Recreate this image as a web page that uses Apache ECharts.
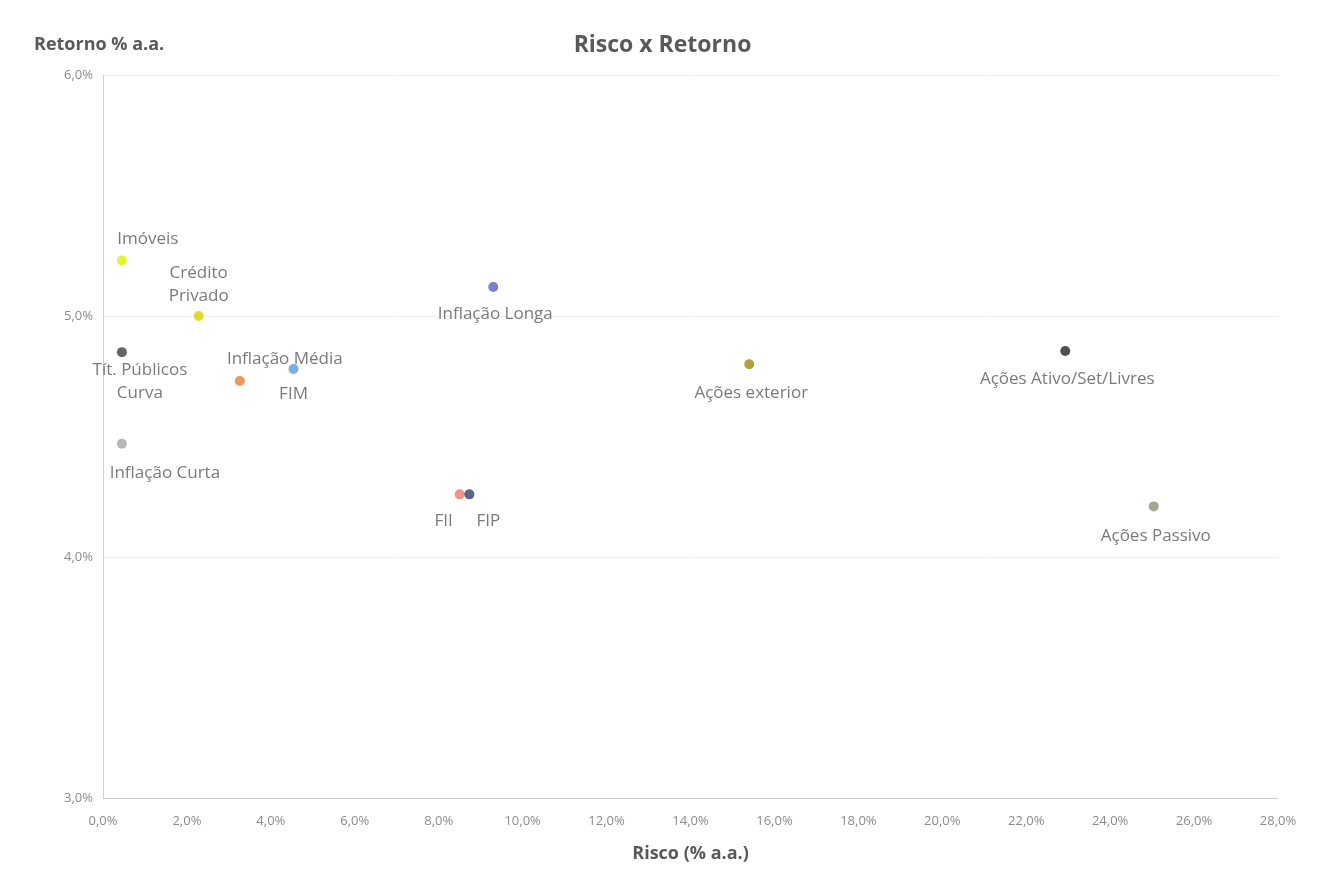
<!DOCTYPE html>
<html>
<head>
<meta charset="utf-8">
<title>Risco x Retorno</title>
<script src="https://cdn.jsdelivr.net/npm/echarts@6/dist/echarts.min.js"></script>
<style>
  html, body { margin: 0; padding: 0; background: #fff; }
  #chart { width: 1325px; height: 882px; }
</style>
</head>
<body>
<div id="chart"></div>
<script>
// ===== dados =====
const assetNames = [
  'Imóveis', 'Crédito\nPrivado', 'Tít. Públicos\nCurva', 'Inflação Média', 'FIM',
  'Inflação Curta', 'Inflação Longa', 'FII', 'FIP', 'Ações exterior',
  'Ações Ativo/Set/Livres', 'Ações Passivo'
]
const riskValues = [0.45, 2.28, 0.45, 3.26, 4.54, 0.45, 9.3, 8.5, 8.73, 15.4, 22.93, 25.04]
const returnValues = [5.23, 5.0, 4.85, 4.73, 4.78, 4.47, 5.12, 4.26, 4.26, 4.80, 4.855, 4.21]
const xTicks = [0, 2, 4, 6, 8, 10, 12, 14, 16, 18, 20, 22, 24, 26, 28]
const yTicks = [3, 4, 5, 6]

// cores e posição dos rótulos (estilo)
const pointColors = [
  '#d9f200', '#d4d400', '#3f3f3f', '#ed7d31', '#5b9bd5',
  '#a5a5a5', '#5b5bc8', '#f2766a', '#2f3f66', '#9c8a0a',
  '#262626', '#8b9178'
]
const labelLayout = [
  ['top', 26, 0], ['top', 0, 2], ['bottom', 18, -3], ['top', 45, 0], ['bottom', 0, 4],
  ['bottom', 43, 8], ['bottom', 2, 6], ['bottom', -16, 5], ['bottom', 19, 5], ['bottom', 2, 7],
  ['bottom', 2, 7], ['bottom', 2, 8]
]

const fmt = v => v.toFixed(1).replace('.', ',') + '%'

const points = assetNames.map((name, i) => ({
  name,
  value: [riskValues[i], returnValues[i]],
  itemStyle: { color: pointColors[i] },
  label: {
    position: labelLayout[i][0],
    offset: [labelLayout[i][1], labelLayout[i][2]]
  }
}))

const chart = echarts.init(document.getElementById('chart'))
chart.setOption({
  animation: false,
  backgroundColor: '#fff',
  title: [
    {
      text: 'Risco x Retorno',
      left: 'center',
      top: 29,
      textStyle: { fontFamily: 'Open Sans', fontSize: 23, fontWeight: 'bold', color: '#595959' }
    },
    {
      text: 'Retorno % a.a.',
      left: 29,
      top: 31,
      textStyle: { fontFamily: 'Open Sans', fontSize: 18, fontWeight: 'bold', color: '#595959' }
    }
  ],
  grid: { left: 103, right: 47, top: 75, bottom: 84 },
  xAxis: {
    type: 'value',
    min: xTicks[0],
    max: xTicks[xTicks.length - 1],
    interval: 2,
    name: 'Risco (% a.a.)',
    nameLocation: 'middle',
    nameGap: 47,
    nameTextStyle: { fontFamily: 'Open Sans', fontSize: 18, fontWeight: 'bold', color: '#595959' },
    axisLine: { lineStyle: { color: '#d0d0d0' } },
    axisTick: { show: false },
    splitLine: { show: false },
    axisLabel: { formatter: fmt, fontFamily: 'Open Sans', fontSize: 13, color: '#8c8c8c', margin: 17 }
  },
  yAxis: {
    type: 'value',
    min: yTicks[0],
    max: yTicks[yTicks.length - 1],
    interval: 1,
    axisLine: { show: true, lineStyle: { color: '#d0d0d0' } },
    axisTick: { show: false },
    splitLine: { lineStyle: { color: '#f0f0f0' } },
    axisLabel: { formatter: fmt, fontFamily: 'Open Sans', fontSize: 13, color: '#8c8c8c', margin: 10 }
  },
  series: [
    {
      type: 'scatter',
      symbolSize: 10,
      data: points,
      label: {
        show: true,
        formatter: p => p.name,
        fontFamily: 'Open Sans',
        fontSize: 17,
        color: '#595959',
        lineHeight: 23,
        distance: 5
      }
    }
  ]
})
</script>
</body>
</html>
